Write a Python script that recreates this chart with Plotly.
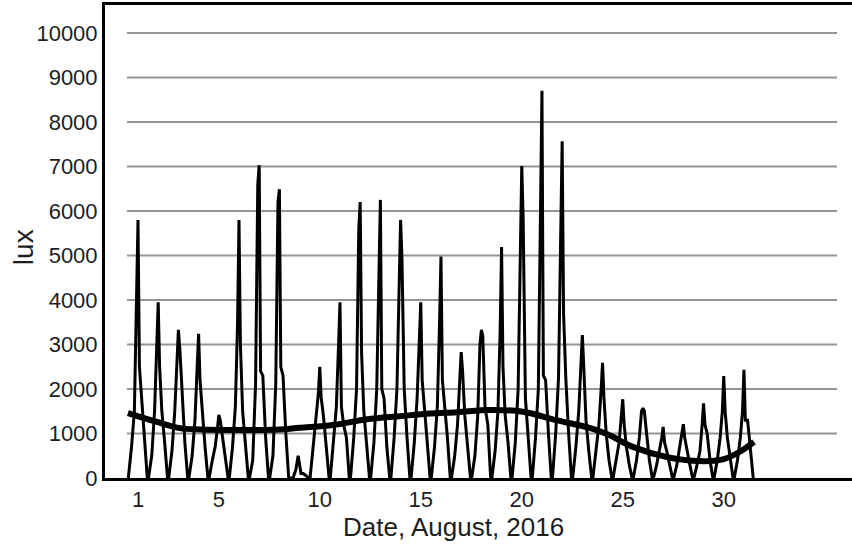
import plotly.graph_objects as go

# ---- data ----
X_TICKS = [1, 5, 10, 15, 20, 25, 30]
Y_TICKS = [0, 1000, 2000, 3000, 4000, 5000, 6000, 7000, 8000, 9000, 10000]

# sample times within each day, relative to that day's midday peak (days)
DAY_OFFSETS = [-0.48, -0.32, -0.18, -0.07, 0.0, 0.07, 0.18, 0.32, 0.46]

AUG_01 = [0, 700, 1500, 3800, 5800, 2500, 1750, 1000, 0]
AUG_02 = [0, 500, 1500, 3000, 3950, 2500, 1500, 800, 0]
AUG_03 = [0, 600, 1500, 2900, 3330, 2900, 2000, 800, 0]
AUG_04 = [0, 500, 1300, 2500, 3240, 2200, 1500, 700, 0]
AUG_05 = [0, 400, 700, 1100, 1420, 1300, 900, 500, 0]
AUG_06 = [0, 700, 1600, 3500, 5800, 3000, 1500, 800, 0]
AUG_07 = [0, 400, 2100, 6600, 7030, 2400, 2300, 900, 0]
AUG_08 = [0, 500, 2100, 6200, 6490, 2500, 2300, 1000, 0]
AUG_09 = [0, 0, 200, 500, 300, 100, 100, 50, 0]
AUG_10 = [0, 800, 1400, 1900, 2500, 1800, 1400, 700, 0]
AUG_11 = [0, 800, 1600, 3000, 3950, 1600, 1200, 900, 0]
AUG_12 = [0, 900, 2000, 5600, 6200, 2800, 1500, 700, 0]
AUG_13 = [0, 800, 2000, 4500, 6250, 2000, 1800, 700, 0]
AUG_14 = [0, 900, 2000, 4000, 5800, 4900, 2000, 900, 0]
AUG_15 = [0, 800, 1800, 3300, 3950, 2200, 1500, 800, 0]
AUG_16 = [0, 700, 1600, 3500, 4980, 2200, 1700, 900, 0]
AUG_17 = [0, 500, 1200, 2200, 2830, 2400, 1400, 700, 0]
AUG_18 = [0, 500, 1400, 3000, 3330, 3200, 1600, 1200, 0]
AUG_19 = [0, 600, 1500, 3300, 5190, 2500, 1400, 800, 0]
AUG_20 = [0, 800, 2000, 5800, 7010, 5800, 1800, 900, 0]
AUG_21 = [0, 900, 2000, 6600, 8700, 2300, 2200, 1000, 0]
AUG_22 = [0, 1000, 2250, 5000, 7570, 3700, 2250, 1000, 0]
AUG_23 = [0, 700, 1500, 2700, 3210, 2500, 1300, 600, 0]
AUG_24 = [0, 600, 1200, 2000, 2590, 1800, 1000, 400, 0]
AUG_25 = [0, 400, 800, 1400, 1770, 1200, 700, 300, 0]
AUG_26 = [0, 400, 900, 1500, 1570, 1500, 1000, 400, 0]
AUG_27 = [0, 300, 600, 900, 1150, 800, 600, 300, 0]
AUG_28 = [0, 300, 700, 1000, 1210, 900, 600, 300, 0]
AUG_29 = [0, 300, 600, 1200, 1680, 1200, 1000, 400, 0]
AUG_30 = [0, 400, 900, 1500, 2290, 1500, 900, 400, 0]
AUG_31 = [0, 400, 900, 1500, 2430, 1300, 1300, 600, 0]

TREND_DAY = [0.5, 1.94, 3.08, 4.07, 6.05, 8.03, 9.0, 10.65, 12.34, 13.97, 15.46,
             16.8, 18.4, 20.06, 21.7, 23.4, 24.3, 25.5, 27.2, 28.8, 29.96, 30.8, 31.5]
TREND_LUX = [1460, 1260, 1120, 1090, 1080, 1090, 1130, 1190, 1320, 1390, 1450,
             1480, 1530, 1490, 1300, 1120, 970, 700, 470, 380, 420, 590, 810]

DAILY = [AUG_01, AUG_02, AUG_03, AUG_04, AUG_05, AUG_06, AUG_07, AUG_08, AUG_09, AUG_10,
         AUG_11, AUG_12, AUG_13, AUG_14, AUG_15, AUG_16, AUG_17, AUG_18, AUG_19, AUG_20,
         AUG_21, AUG_22, AUG_23, AUG_24, AUG_25, AUG_26, AUG_27, AUG_28, AUG_29, AUG_30,
         AUG_31]

xs, ys = [], []
for day, vals in enumerate(DAILY, start=1):
    for off, v in zip(DAY_OFFSETS, vals):
        xs.append(day + off)
        ys.append(v)

FONT = "Liberation Sans, Arial, sans-serif"
TXT = "#1e1e1e"

fig = go.Figure()
fig.add_trace(go.Scatter(x=xs, y=ys, mode="lines",
                         line=dict(color="black", width=3), hoverinfo="skip"))
fig.add_trace(go.Scatter(x=TREND_DAY, y=TREND_LUX, mode="lines",
                         line=dict(color="black", width=6, shape="spline", smoothing=1.0),
                         hoverinfo="skip"))

# gridlines (shorter than the plot area, as in the reference)
for v in Y_TICKS[1:]:
    fig.add_shape(type="line", xref="paper", yref="y", x0=0.0295, x1=0.98, y0=v, y1=v,
                  line=dict(color="#959595", width=2), layer="below")

fig.update_layout(
    width=852, height=547,
    margin=dict(l=105, r=0, t=5, b=69),
    paper_bgcolor="white", plot_bgcolor="white",
    showlegend=False,
    font=dict(family=FONT, color=TXT, size=22),
    xaxis=dict(range=[-0.634, 36.35], tickvals=X_TICKS, ticktext=[str(t) for t in X_TICKS],
               showgrid=False, zeroline=False, showline=True, linecolor="black",
               linewidth=3, mirror=True, ticks="", tickfont=dict(size=22, family=FONT, color=TXT)),
    yaxis=dict(range=[0, 10630], tickvals=Y_TICKS, ticktext=[str(t) for t in Y_TICKS],
               showgrid=False, zeroline=False, showline=True, linecolor="black",
               linewidth=3, ticks="", tickfont=dict(size=22, family=FONT, color=TXT)),
    annotations=[
        dict(text="Date, August, 2016", xref="paper", yref="paper", x=0.466, y=-0.104,
             xanchor="center", yanchor="middle", showarrow=False,
             font=dict(size=26, family=FONT, color=TXT)),
        dict(text="lux", xref="paper", yref="paper", x=-0.1098, y=0.488,
             xanchor="center", yanchor="middle", textangle=-90, showarrow=False,
             font=dict(size=28, family=FONT, color=TXT)),
    ],
)

fig.write_html("out.html", config={"displayModeBar": False},
               post_script="document.body.style.margin='0px';")
